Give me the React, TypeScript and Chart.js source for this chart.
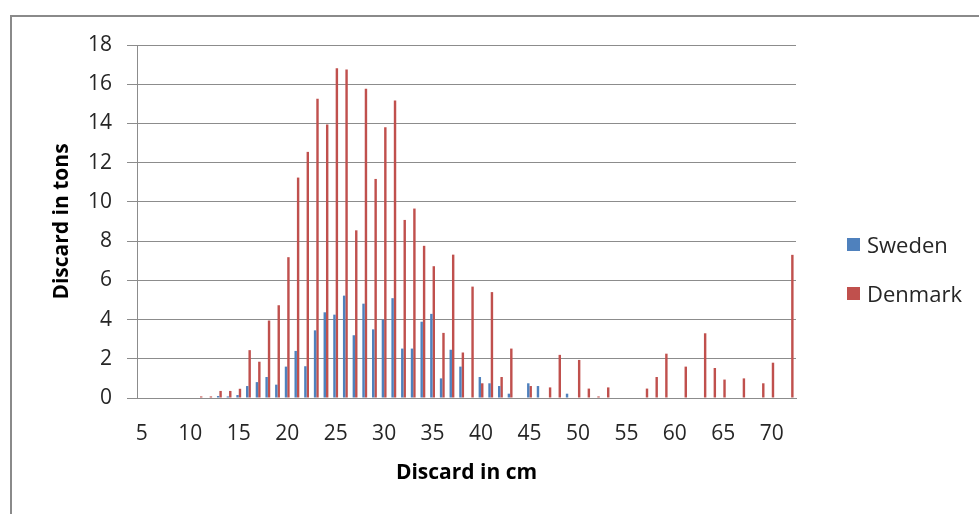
import { useEffect, useRef } from "react";
import { Chart, registerables } from "chart.js";

Chart.register(...registerables);

// discard length classes in cm (5 .. 72)
const lengths: number[] = [
  5, 6, 7, 8, 9, 10, 11, 12, 13, 14, 15, 16, 17, 18, 19, 20, 21, 22, 23, 24,
  25, 26, 27, 28, 29, 30, 31, 32, 33, 34, 35, 36, 37, 38, 39, 40, 41, 42, 43,
  44, 45, 46, 47, 48, 49, 50, 51, 52, 53, 54, 55, 56, 57, 58, 59, 60, 61, 62,
  63, 64, 65, 66, 67, 68, 69, 70, 71, 72,
];

// discard in tons
const sweden: number[] = [
  0, 0, 0, 0, 0, 0, 0, 0, 0.1, 0.08, 0.15, 0.61, 0.81, 1.07, 0.68, 1.6, 2.4,
  1.62, 3.45, 4.37, 4.25, 5.22, 3.2, 4.81, 3.5, 4.0, 5.09, 2.52, 2.52, 3.89,
  4.29, 1.0, 2.46, 1.6, 0, 1.07, 0.75, 0.61, 0.22, 0, 0.75, 0.61, 0, 0, 0.22,
  0, 0, 0, 0, 0, 0, 0, 0, 0, 0, 0, 0, 0, 0, 0, 0, 0, 0, 0, 0, 0, 0, 0,
];

const denmark: number[] = [
  0, 0, 0, 0, 0, 0, 0.08, 0.08, 0.36, 0.36, 0.47, 2.44, 1.85, 3.95, 4.73, 7.18,
  11.24, 12.55, 15.26, 13.95, 16.82, 16.75, 8.55, 15.77, 11.17, 13.81, 15.17,
  9.08, 9.66, 7.76, 6.72, 3.32, 7.31, 2.32, 5.68, 0.75, 5.4, 1.07, 2.52, 0,
  0.61, 0, 0.54, 2.2, 0, 1.94, 0.48, 0.08, 0.54, 0, 0, 0, 0.48, 1.07, 2.26, 0,
  1.6, 0, 3.3, 1.53, 0.94, 0, 1.0, 0, 0.75, 1.8, 0, 7.3,
];

const yTicks = { min: 0, max: 18, step: 2 };

const BLUE = "#4F81BD";
const RED = "#C0504D";
const GRID = "#8c8c8c";
const TEXT = "#262626";
const FONT = "'Open Sans', Lato, sans-serif";

const seriesInfo = [
  { label: "Sweden", color: BLUE, data: sweden },
  { label: "Denmark", color: RED, data: denmark },
];

function DiscardChart() {
  const canvasRef = useRef<HTMLCanvasElement | null>(null);
  const chartRef = useRef<Chart | null>(null);

  useEffect(() => {
    if (!canvasRef.current) return;
    if (chartRef.current) chartRef.current.destroy();

    chartRef.current = new Chart(canvasRef.current, {
      type: "bar",
      data: {
        labels: lengths.map(String),
        datasets: seriesInfo.map((s) => ({
          label: s.label,
          data: s.data,
          backgroundColor: s.color,
          borderWidth: 0,
          barPercentage: 1,
          categoryPercentage: 0.5,
        })),
      },
      options: {
        animation: false,
        responsive: true,
        maintainAspectRatio: false,
        layout: { padding: { left: 0, top: 45, right: 183, bottom: 0 } },
        plugins: {
          legend: { display: false },
          tooltip: { enabled: false },
        },
        scales: {
          x: {
            grid: { display: false },
            border: { display: true, color: GRID, width: 1 },
            ticks: {
              autoSkip: false,
              maxRotation: 0,
              padding: 15,
              color: TEXT,
              font: { family: FONT, size: 21 },
              callback: (_v, i) => (lengths[i] % 5 === 0 ? String(lengths[i]) : ""),
            },
            title: {
              display: true,
              text: "Discard in cm",
              color: "#000",
              font: { family: FONT, size: 21, weight: "bold" },
              padding: { top: 0, bottom: 28 },
            },
            afterFit: (scale) => {
              scale.height = 116;
            },
          },
          y: {
            min: yTicks.min,
            max: yTicks.max,
            grid: { color: GRID, lineWidth: 1, tickLength: 10, tickColor: GRID },
            border: { display: true, color: GRID, width: 1 },
            ticks: {
              stepSize: yTicks.step,
              padding: 15,
              color: TEXT,
              font: { family: FONT, size: 21 },
            },
            title: {
              display: true,
              text: "Discard in tons",
              color: "#000",
              font: { family: FONT, size: 21, weight: "bold" },
              padding: { top: 49, bottom: 0 },
            },
            afterFit: (scale) => {
              scale.width = 137;
            },
          },
        },
      },
    });

    return () => {
      if (chartRef.current) {
        chartRef.current.destroy();
        chartRef.current = null;
      }
    };
  }, []);

  return (
    <div style={{ position: "absolute", left: 0, top: 0, width: 979, height: 514 }}>
      <canvas ref={canvasRef} />
    </div>
  );
}

export default function App() {
  return (
    <div
      style={{
        position: "fixed",
        left: 0,
        top: 0,
        width: 979,
        height: 514,
        background: "#fff",
        overflow: "hidden",
        fontFamily: FONT,
      }}
    >
      {/* outer chart frame, cut off at the right and bottom */}
      <div
        style={{
          position: "absolute",
          left: 10,
          top: 15,
          width: 1000,
          height: 600,
          borderTop: "2px solid #8a8a8a",
          borderLeft: "2px solid #8a8a8a",
        }}
      />
      <DiscardChart />
      <div style={{ position: "absolute", left: 847, top: 229, color: TEXT }}>
        {seriesInfo.map((s) => (
          <div
            key={s.label}
            style={{ display: "flex", alignItems: "center", height: 30, marginBottom: 19 }}
          >
            <span
              style={{
                display: "inline-block",
                width: 13,
                height: 13,
                background: s.color,
                marginRight: 7,
              }}
            />
            <span style={{ fontSize: 22 }}>{s.label}</span>
          </div>
        ))}
      </div>
    </div>
  );
}
